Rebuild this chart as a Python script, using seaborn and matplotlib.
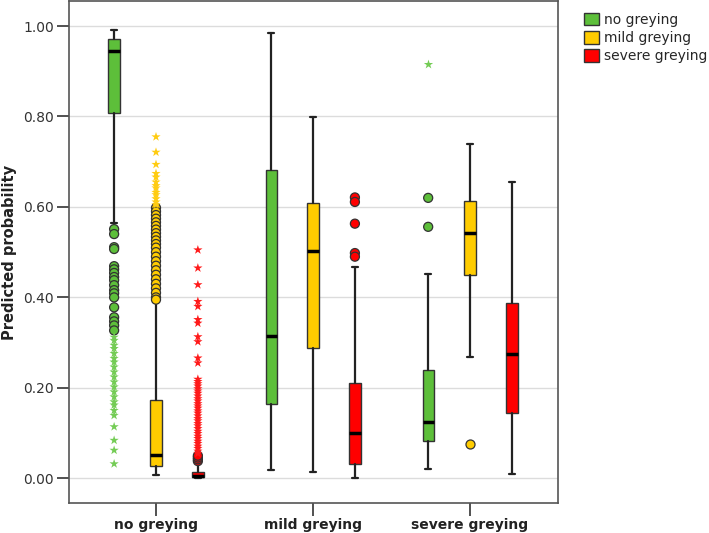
import numpy as np
import pandas as pd
import matplotlib
matplotlib.use('Agg')
import matplotlib.pyplot as plt
import matplotlib.patches as mpatches
import seaborn as sns

# categories
groups = ['no greying', 'mild greying', 'severe greying']
series = ['no greying', 'mild greying', 'severe greying']
colors = ['#5dbf3a', '#ffcc00', '#ff0000']
star_colors = ['#74cc55', '#ffcc11', '#ff1a1a']

# box statistics, group-major order (group x series)
whisker_low = [0.564, 0.008, 0.000, 0.018, 0.015, 0.001, 0.020, 0.268, 0.009]
q1 = [0.808, 0.028, 0.002, 0.164, 0.287, 0.032, 0.082, 0.449, 0.144]
median = [0.945, 0.052, 0.006, 0.314, 0.502, 0.100, 0.125, 0.542, 0.274]
q3 = [0.971, 0.173, 0.014, 0.681, 0.609, 0.210, 0.240, 0.613, 0.387]
whisker_high = [0.991, 0.390, 0.034, 0.984, 0.799, 0.468, 0.451, 0.739, 0.655]

# outliers (circles) and extreme values (stars)
ng_green_circles = [0.551, 0.540, 0.511, 0.507, 0.469, 0.462, 0.454, 0.445, 0.438,
                    0.427, 0.416, 0.409, 0.400, 0.378, 0.356, 0.347, 0.338, 0.327]
ng_green_stars = [0.312, 0.305, 0.294, 0.287, 0.276, 0.265, 0.257, 0.246, 0.235, 0.224,
                  0.213, 0.202, 0.191, 0.180, 0.169, 0.162, 0.150, 0.139, 0.114, 0.084,
                  0.062, 0.032]
ng_yellow_circles = [0.598, 0.590, 0.582, 0.574, 0.566, 0.558, 0.550, 0.542, 0.534, 0.526,
                     0.518, 0.510, 0.500, 0.490, 0.480, 0.470, 0.460, 0.450, 0.440, 0.430,
                     0.420, 0.410, 0.400, 0.395]
ng_yellow_stars = [0.755, 0.721, 0.694, 0.674, 0.666, 0.655, 0.647, 0.642, 0.632, 0.627,
                   0.618, 0.611, 0.605]
ng_red_circles = [0.038, 0.042, 0.046, 0.050]
ng_red_stars = [0.505, 0.465, 0.428, 0.391, 0.380, 0.351, 0.343, 0.313, 0.302, 0.266,
                0.255, 0.219, 0.214, 0.209, 0.204, 0.198, 0.193, 0.188, 0.182, 0.176,
                0.171, 0.165, 0.160, 0.155, 0.149, 0.144, 0.138, 0.132, 0.127, 0.121,
                0.116, 0.110, 0.104, 0.099, 0.093, 0.088, 0.082, 0.077, 0.071, 0.066,
                0.060, 0.055]
mg_red_circles = [0.621, 0.611, 0.563, 0.498, 0.490]
sg_green_circles = [0.620, 0.556]
sg_green_stars = [0.916]
sg_yellow_circles = [0.075]

rows = []
def add(vals, g, s, kind):
    for v in vals:
        rows.append({'group': g, 'series': s, 'value': v, 'kind': kind})

add(ng_green_circles, groups[0], series[0], 'circle')
add(ng_green_stars, groups[0], series[0], 'star')
add(ng_yellow_circles, groups[0], series[1], 'circle')
add(ng_yellow_stars, groups[0], series[1], 'star')
add(ng_red_circles, groups[0], series[2], 'circle')
add(ng_red_stars, groups[0], series[2], 'star')
add(mg_red_circles, groups[1], series[2], 'circle')
add(sg_green_circles, groups[2], series[0], 'circle')
add(sg_green_stars, groups[2], series[0], 'star')
add(sg_yellow_circles, groups[2], series[1], 'circle')
outliers = pd.DataFrame(rows)

sns.set_style('white')
plt.rcParams['font.family'] = ['DejaVu Sans']

fig = plt.figure(figsize=(7.09, 5.33), dpi=100)
ax = fig.add_axes([69 / 709, 30 / 533, (558 - 69) / 709, (532 - 30) / 533])

# gridlines
ax.set_yticks([0, 0.2, 0.4, 0.6, 0.8, 1.0])
ax.yaxis.grid(True, color='#dcdcdc', linewidth=1)
ax.set_axisbelow(True)

# boxes
offset = 0.8 / 3
stats, positions, fills = [], [], []
for gi in range(3):
    for si in range(3):
        k = gi * 3 + si
        stats.append({'whislo': whisker_low[k], 'q1': q1[k], 'med': median[k],
                      'q3': q3[k], 'whishi': whisker_high[k], 'fliers': []})
        positions.append(gi + (si - 1) * offset)
        fills.append(colors[si])

bp = ax.bxp(stats, positions=positions, widths=0.072, capwidths=0.038,
            patch_artist=True, showfliers=False,
            boxprops=dict(edgecolor='#333333', linewidth=1),
            medianprops=dict(color='black', linewidth=2.5, solid_capstyle='butt'),
            whiskerprops=dict(color='#222222', linewidth=1.6),
            capprops=dict(color='#222222', linewidth=1.6))
for patch, c in zip(bp['boxes'], fills):
    patch.set_facecolor(c)

# outliers
circ = outliers[outliers['kind'] == 'circle']
star = outliers[outliers['kind'] == 'star']
sns.stripplot(data=circ, x='group', y='value', hue='series', order=groups,
              hue_order=series, palette=colors, dodge=True, jitter=False,
              size=6.5, linewidth=0.9, edgecolor='#333333', legend=False, ax=ax,
              zorder=4)
sns.stripplot(data=star, x='group', y='value', hue='series', order=groups,
              hue_order=series, palette=star_colors, dodge=True, jitter=False,
              marker='*', size=7, linewidth=0, legend=False, ax=ax, zorder=4)

ax.set_xlim(-0.554, 2.56)
ax.set_ylim(-0.0546, 1.0553)
ax.set_xticks([0, 1, 2])
ax.set_xticklabels(groups, fontsize=10, fontweight='bold', color='#222222')
ax.set_yticks([0, 0.2, 0.4, 0.6, 0.8, 1.0])
ax.set_yticklabels(['%.2f' % v for v in [0, 0.2, 0.4, 0.6, 0.8, 1.0]],
                   fontsize=10, color='#333333')
ax.tick_params(axis='x', length=9, width=1.2, color='#333333', pad=2, bottom=True)
ax.tick_params(axis='y', length=9, width=1.2, color='#333333', pad=2, left=True)
ax.set_xlabel('')
ax.set_ylabel('Predicted probability', fontsize=10.5, fontweight='bold',
              color='#222222', labelpad=4)
for sp in ax.spines.values():
    sp.set_color('#555555')
    sp.set_linewidth(1.2)

handles = [mpatches.Patch(facecolor=c, edgecolor='#333333', linewidth=1, label=s)
           for c, s in zip(colors, series)]
fig.legend(handles=handles, loc='upper left', bbox_to_anchor=(584 / 709, 1 - 13 / 533),
           frameon=False, fontsize=10, handlelength=1.08, handleheight=1.0,
           handletextpad=0.35, labelspacing=0.3, borderaxespad=0, borderpad=0)

fig.savefig('out.png', dpi=100)
